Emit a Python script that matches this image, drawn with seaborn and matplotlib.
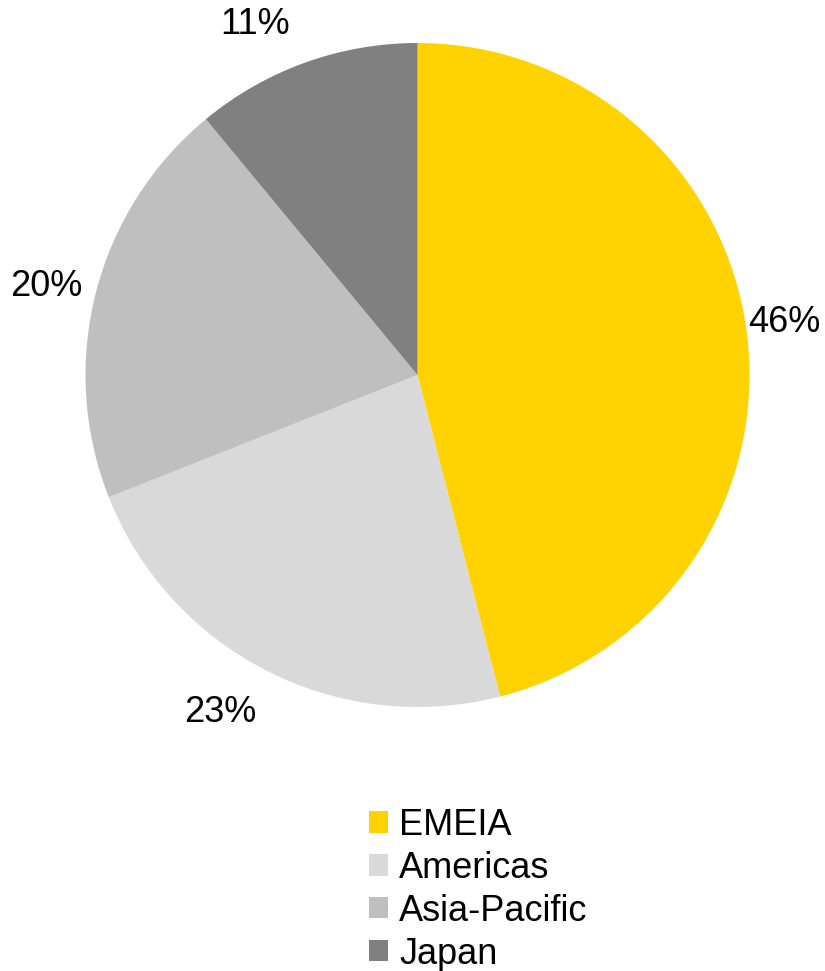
import numpy as np
import matplotlib
matplotlib.use("Agg")
import matplotlib.pyplot as plt
from matplotlib.patches import Patch
import seaborn as sns

# Share of revenue by region
regions = ["EMEIA", "Americas", "Asia-Pacific", "Japan"]
shares = [46, 23, 20, 11]
pct_labels = ["46%", "23%", "20%", "11%"]
colors = ["#FFD200", "#D9D9D9", "#BFBFBF", "#808080"]

# label placement (radial distance in radii, angular nudge in degrees)
label_dist = [1.117, 1.177, 1.149, 1.163]
label_turn = [0.9, -3.4, 1.0, 5.1]

sns.set_theme(style="white")
plt.rcParams["font.family"] = ["Liberation Sans", "DejaVu Sans"]
plt.rcParams["text.color"] = "black"

FS = 26
W, H = 825, 971
fig = plt.figure(figsize=(W / 100, H / 100), dpi=100)
fig.patch.set_facecolor("white")

cx, cy, R = 417.5, 375, 332
ax = fig.add_axes([(cx - R) / W, (H - cy - R) / H, 2 * R / W, 2 * R / H])

wedges, _ = ax.pie(shares, colors=colors, startangle=90, counterclock=False,
                   radius=1, wedgeprops=dict(linewidth=0))
ax.set_xlim(-1, 1)
ax.set_ylim(-1, 1)
ax.set_aspect("equal")
ax.axis("off")

for w, txt, d, t in zip(wedges, pct_labels, label_dist, label_turn):
    mid = np.deg2rad((w.theta1 + w.theta2) / 2 + t)
    ax.text(d * np.cos(mid), d * np.sin(mid), txt, ha="center", va="center",
            fontsize=FS, color="black", clip_on=False)

handles = [Patch(facecolor=c, edgecolor="none", label=r) for c, r in zip(colors, regions)]
fig.legend(handles=handles, loc="center", bbox_to_anchor=(0.58, 0.0838),
           frameon=False, fontsize=FS, labelcolor="black",
           handlelength=0.53, handleheight=0.53,
           handletextpad=0.3, labelspacing=0.22, borderpad=0, borderaxespad=0)

fig.savefig("out.png", dpi=100, facecolor="white")
